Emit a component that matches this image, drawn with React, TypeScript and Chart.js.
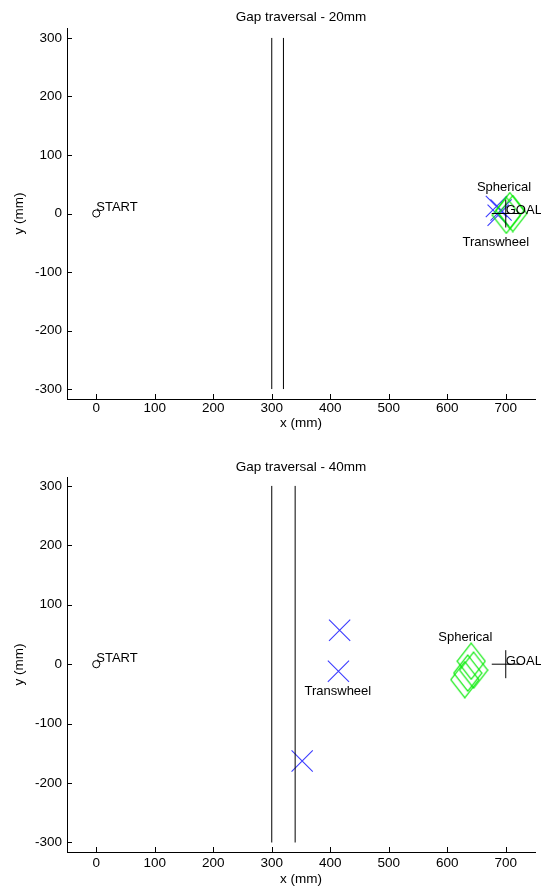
import React, { useEffect, useRef } from "react";
import { Chart, registerables } from "chart.js";

Chart.register(...registerables);

// ---------- data ----------
const xTickValues = [0, 100, 200, 300, 400, 500, 600, 700];
const yTickValues = [-300, -200, -100, 0, 100, 200, 300];

const startPoint = [0, 0];
const goalPoint = [700, 0];
const wallSpan = [-300, 300];

// 20 mm gap
const topTitle = "Gap traversal - 20mm";
const topWalls = [300, 320];
const topTranswheelX = [684, 687, 692];
const topTranswheelY = [12, -3, 6];
const topSphericalX = [707, 701, 712];
const topSphericalY = [5, -3, 0];
const topLabelText = ["START", "GOAL", "Spherical", "Transwheel"];
const topLabelX = [0, 700, 697, 683];
const topLabelY = [10, 6, 45, -49];

// 40 mm gap
const bottomTitle = "Gap traversal - 40mm";
const bottomWalls = [300, 340];
const bottomTranswheelX = [416, 414, 352];
const bottomTranswheelY = [57, -12, -163];
const bottomSphericalX = [641, 645, 635, 630];
const bottomSphericalY = [5, -10, -15, -26];
const bottomLabelText = ["START", "GOAL", "Spherical", "Transwheel"];
const bottomLabelX = [0, 700, 631, 413];
const bottomLabelY = [10, 5, 45, -45];

const labelAlign = ["left", "left", "center", "center"];

const FONT = "'Liberation Sans', Arial, Helvetica, sans-serif";

function makeDiamond(): HTMLCanvasElement {
  const c = document.createElement("canvas");
  const w = 30, h = 38;
  c.width = w; c.height = h;
  const ctx = c.getContext("2d")!;
  ctx.strokeStyle = "rgb(0,235,0)";
  ctx.lineWidth = 1.2;
  ctx.beginPath();
  ctx.moveTo(w / 2, 1);
  ctx.lineTo(w - 1, h / 2);
  ctx.lineTo(w / 2, h - 1);
  ctx.lineTo(1, h / 2);
  ctx.closePath();
  ctx.stroke();
  return c;
}

const insideTicks = {
  id: "insideTicks",
  afterDraw(chart: any) {
    const { ctx, chartArea } = chart;
    const xs = chart.scales.x, ys = chart.scales.y;
    ctx.save();
    ctx.strokeStyle = "#000";
    ctx.lineWidth = 1;
    ctx.beginPath();
    xs.ticks.forEach((t: any) => {
      const px = Math.round(xs.getPixelForValue(t.value)) + 0.5;
      ctx.moveTo(px, chartArea.bottom);
      ctx.lineTo(px, chartArea.bottom - 5);
    });
    ys.ticks.forEach((t: any) => {
      const py = Math.round(ys.getPixelForValue(t.value)) + 0.5;
      ctx.moveTo(chartArea.left, py);
      ctx.lineTo(chartArea.left + 5, py);
    });
    ctx.stroke();
    ctx.restore();
  },
};

const textLabels = {
  id: "textLabels",
  afterDatasetsDraw(chart: any, _args: any, opts: any) {
    const { ctx } = chart;
    const xs = chart.scales.x, ys = chart.scales.y;
    ctx.save();
    ctx.font = `13px ${FONT}`;
    ctx.fillStyle = "#000";
    ctx.textBaseline = "middle";
    (opts.text || []).forEach((t: string, i: number) => {
      ctx.textAlign = opts.align[i];
      ctx.fillText(t, xs.getPixelForValue(opts.x[i]), ys.getPixelForValue(opts.y[i]));
    });
    ctx.restore();
  },
};

interface PlotCfg {
  title: string;
  walls: number[];
  twX: number[];
  twY: number[];
  spX: number[];
  spY: number[];
  lblText: string[];
  lblX: number[];
  lblY: number[];
  yMin: number;
  yMax: number;
  titlePad: { top: number; bottom: number };
  xAxisHeight: number;
  xLabelPad: number;
  xTitlePad: number;
}

function buildConfig(p: PlotCfg, diamond: HTMLCanvasElement): any {
  const wallSets = p.walls.map((w) => ({
    type: "line",
    data: [
      { x: w, y: wallSpan[0] },
      { x: w, y: wallSpan[1] },
    ],
    borderColor: "#000",
    borderWidth: 1,
    pointRadius: 0,
    showLine: true,
  }));
  return {
    type: "scatter",
    data: {
      datasets: [
        ...wallSets,
        {
          data: [{ x: startPoint[0], y: startPoint[1] }],
          pointStyle: "circle",
          pointRadius: 3.6,
          borderColor: "#000",
          backgroundColor: "rgba(0,0,0,0)",
          borderWidth: 1,
        },
        {
          data: [{ x: goalPoint[0], y: goalPoint[1] }],
          pointStyle: "cross",
          pointRadius: 14,
          borderColor: "#000",
          borderWidth: 1,
        },
        {
          data: p.spX.map((x, i) => ({ x, y: p.spY[i] })),
          pointStyle: diamond,
          pointRadius: 15,
        },
        {
          data: p.twX.map((x, i) => ({ x, y: p.twY[i] })),
          pointStyle: "crossRot",
          pointRadius: 15,
          borderColor: "#3c3cff",
          borderWidth: 1.1,
        },
      ],
    },
    options: {
      animation: false,
      responsive: false,
      devicePixelRatio: 1,
      layout: { padding: { left: 0, right: 58, top: 0, bottom: 0 } },
      plugins: {
        legend: { display: false },
        tooltip: { enabled: false },
        title: {
          display: true,
          fullSize: false,
          text: p.title,
          color: "#000",
          font: { family: FONT, size: 13.5, weight: "normal" },
          padding: p.titlePad,
        },
        textLabels: { text: p.lblText, x: p.lblX, y: p.lblY, align: labelAlign },
      },
      scales: {
        x: {
          type: "linear",
          min: -50,
          max: 750,
          grid: { display: false, drawTicks: false, tickLength: 0 },
          border: { display: true, color: "#000", width: 1 },
          ticks: {
            color: "#000",
            font: { family: FONT, size: 13.5 },
            padding: p.xLabelPad,
            maxRotation: 0,
          },
          title: {
            display: true,
            text: "x (mm)",
            color: "#000",
            font: { family: FONT, size: 13.5 },
            padding: { top: 0, bottom: p.xTitlePad },
          },
          afterBuildTicks: (s: any) => {
            s.ticks = xTickValues.map((v) => ({ value: v }));
          },
          afterFit: (s: any) => {
            s.height = p.xAxisHeight;
            s.paddingLeft = 0;
            s.paddingRight = 0;
          },
        },
        y: {
          type: "linear",
          min: p.yMin,
          max: p.yMax,
          grid: { display: false, drawTicks: false, tickLength: 0 },
          border: { display: true, color: "#000", width: 1 },
          ticks: {
            color: "#000",
            font: { family: FONT, size: 13.5 },
            padding: 5,
          },
          title: {
            display: true,
            text: "y (mm)",
            color: "#000",
            font: { family: FONT, size: 13.5 },
            padding: { top: 11, bottom: 0 },
          },
          afterBuildTicks: (s: any) => {
            s.ticks = yTickValues.map((v) => ({ value: v }));
          },
          afterFit: (s: any) => {
            s.width = 67;
            s.paddingTop = 0;
            s.paddingBottom = 0;
          },
        },
      },
    },
    plugins: [insideTicks, textLabels],
  };
}

export default function App() {
  const topRef = useRef<HTMLCanvasElement>(null);
  const botRef = useRef<HTMLCanvasElement>(null);

  useEffect(() => {
    const diamond = makeDiamond();
    const c1 = new Chart(
      topRef.current!,
      buildConfig(
        {
          title: topTitle,
          walls: topWalls,
          twX: topTranswheelX,
          twY: topTranswheelY,
          spX: topSphericalX,
          spY: topSphericalY,
          lblText: topLabelText,
          lblX: topLabelX,
          lblY: topLabelY,
          yMin: -317,
          yMax: 317,
          titlePad: { top: 9.4, bottom: 2.4 },
          xAxisHeight: 46,
          xLabelPad: 1.5,
          xTitlePad: 14,
        },
        diamond
      )
    );
    const c2 = new Chart(
      botRef.current!,
      buildConfig(
        {
          title: bottomTitle,
          walls: bottomWalls,
          twX: bottomTranswheelX,
          twY: bottomTranswheelY,
          spX: bottomSphericalX,
          spY: bottomSphericalY,
          lblText: bottomLabelText,
          lblX: bottomLabelX,
          lblY: bottomLabelY,
          yMin: -316,
          yMax: 315,
          titlePad: { top: 13.9, bottom: 1.9 },
          xAxisHeight: 38,
          xLabelPad: 3.5,
          xTitlePad: 3,
        },
        diamond
      )
    );
    return () => {
      c1.destroy();
      c2.destroy();
    };
  }, []);

  return (
    <div style={{ position: "absolute", left: 0, top: 0, width: 593, height: 890, background: "#fff" }}>
      <canvas ref={topRef} width={593} height={445} style={{ position: "absolute", left: 0, top: 0, width: 593, height: 445 }} />
      <canvas ref={botRef} width={593} height={445} style={{ position: "absolute", left: 0, top: 445, width: 593, height: 445 }} />
    </div>
  );
}
